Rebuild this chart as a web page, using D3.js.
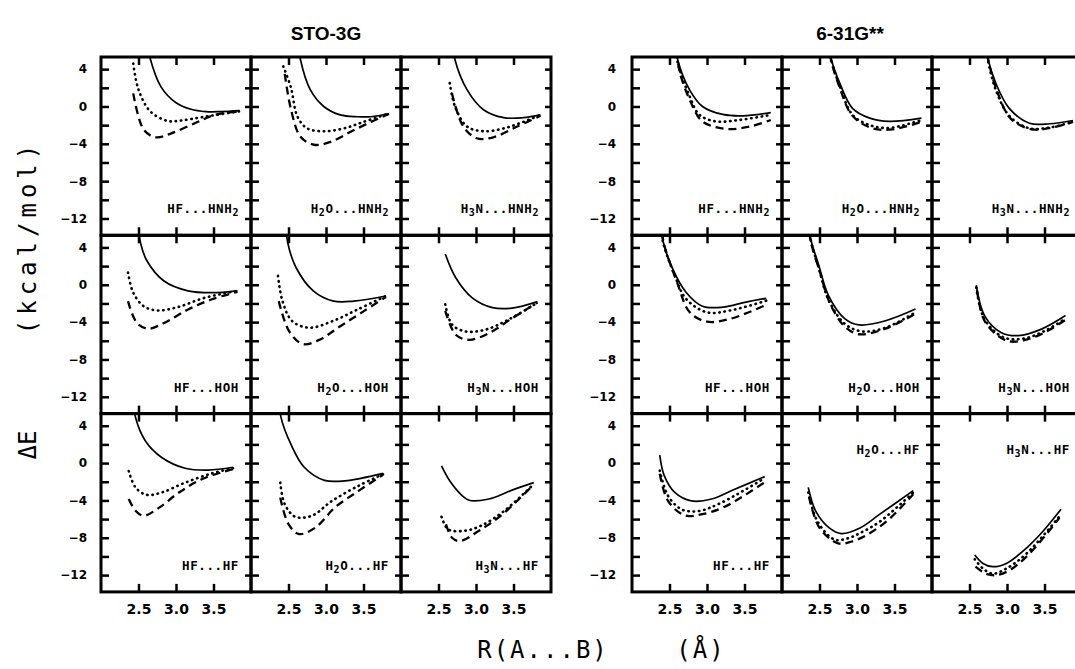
<!DOCTYPE html>
<html>
<head>
<meta charset="utf-8">
<title>Hydrogen bond potential curves</title>
<script src="https://cdn.jsdelivr.net/npm/d3@7"></script>
<style>
  body { margin: 0; background: #fff; }
  svg { display: block; }
  .frame { fill: none; stroke: #000; stroke-width: 3; }
  .ticks path { display: none; }
  .ticks line { stroke: #000; stroke-width: 2.5; }
  .labels path, .labels line { display: none; }
  .labels text { font-family: "DejaVu Sans", sans-serif; font-weight: bold; fill: #000; }
  .curve { fill: none; stroke: #000; stroke-linejoin: round; }
  .solid { stroke-width: 1.7; }
  .dotted { stroke-width: 2.6; stroke-dasharray: 0.5 4.8; stroke-linecap: round; }
  .dashed { stroke-width: 2.3; stroke-dasharray: 8 5; }
  .title { font-family: "Liberation Sans", Arial, sans-serif; font-weight: bold; font-size: 19px; }
  .pairLabel { font-family: "DejaVu Sans Mono", monospace; font-weight: bold; font-size: 12.5px; letter-spacing: 0.6px; }
  .axisTitle { font-family: "DejaVu Sans Mono", monospace; font-size: 24px; }
</style>
</head>
<body>
<svg id="chart" width="1075" height="669"></svg>
<script>
// ---- data ----
basisSets = ["STO-3G", "6-31G**"];
bases = ["HF", "H2O", "H3N"];      // columns
acids = ["HNH2", "HOH", "HF"];     // rows
yTicks = [4, 0, -4, -8, -12];
yMinor = [4, 2, 0, -2, -4, -6, -8, -10, -12];
xTicks = [2.5, 3.0, 3.5];

// curves: [R (A), dE (kcal/mol)], panels row by row (HNH2, HOH, HF) x (HF, H2O, H3N)
stoSolid = [
  [[2.6,7.5],[2.65,5.3],[2.8,2.1],[3.0,0.4],[3.2,-0.3],[3.4,-0.55],[3.6,-0.55],[3.85,-0.45]],
  [[2.62,7.5],[2.66,5.0],[2.79,1.8],[2.97,0.0],[3.19,-0.9],[3.42,-1.1],[3.6,-1.1],[3.84,-0.75]],
  [[2.68,7.5],[2.72,5.0],[2.88,1.8],[3.1,-0.35],[3.37,-1.2],[3.63,-1.2],[3.86,-0.9]],
  [[2.48,7],[2.53,4.4],[2.61,2.6],[2.84,0.4],[3.16,-0.65],[3.48,-0.85],[3.82,-0.65]],
  [[2.46,7],[2.49,4.5],[2.6,1.85],[2.83,-0.65],[3.1,-1.75],[3.37,-1.75],[3.8,-1.2]],
  [[2.59,3.3],[2.73,0.75],[2.95,-1.4],[3.22,-2.45],[3.48,-2.5],[3.82,-1.8]],
  [[2.43,7],[2.46,4.9],[2.59,2.4],[2.81,0.6],[3.12,-0.55],[3.43,-0.75],[3.76,-0.45]],
  [[2.37,7],[2.4,4.9],[2.53,2.05],[2.71,-0.45],[2.98,-1.85],[3.25,-1.9],[3.76,-1.1]],
  [[2.54,-0.3],[2.68,-2.25],[2.9,-3.95],[3.17,-3.85],[3.48,-2.9],[3.77,-2.1]]
];
stoDotted = [
  [[2.43,4.6],[2.5,1.8],[2.66,-0.55],[2.89,-1.55],[3.07,-1.5],[3.38,-1.1],[3.86,-0.5]],
  [[2.43,4.3],[2.53,2.1],[2.62,-1.1],[2.75,-2.35],[2.97,-2.65],[3.24,-2.35],[3.5,-1.65],[3.84,-0.75]],
  [[2.65,2.5],[2.72,0.0],[2.88,-2.15],[3.1,-2.65],[3.37,-2.35],[3.63,-1.65],[3.86,-0.9]],
  [[2.36,1.3],[2.43,-0.85],[2.57,-2.3],[2.75,-2.75],[3.02,-2.4],[3.38,-1.4],[3.82,-0.65]],
  [[2.36,0.95],[2.42,-1.75],[2.55,-3.9],[2.78,-4.6],[3.1,-3.85],[3.42,-2.65],[3.8,-1.2]],
  [[2.59,-2.1],[2.68,-4.25],[2.86,-5.0],[3.13,-4.8],[3.44,-3.7],[3.82,-1.9]],
  [[2.37,-0.85],[2.46,-2.6],[2.61,-3.4],[2.81,-3.15],[3.12,-2.1],[3.48,-1.1],[3.76,-0.55]],
  [[2.39,-2.1],[2.45,-4.4],[2.59,-5.75],[2.81,-5.65],[3.08,-4.05],[3.43,-2.45],[3.76,-1.2]],
  [[2.54,-5.75],[2.63,-7.1],[2.85,-7.25],[3.07,-6.7],[3.38,-5.1],[3.77,-2.25]]
];
stoDashed = [
  [[2.43,1.4],[2.57,-2.5],[2.73,-3.3],[2.93,-2.9],[3.25,-1.8],[3.52,-0.9],[3.86,-0.5]],
  [[2.45,3.5],[2.53,-0.2],[2.66,-3.25],[2.84,-4.1],[3.06,-3.8],[3.33,-2.7],[3.6,-1.65],[3.84,-0.8]],
  [[2.68,1.4],[2.83,-2.15],[3.01,-3.4],[3.23,-3.3],[3.55,-2.15],[3.86,-1.0]],
  [[2.36,-1.75],[2.48,-4.1],[2.63,-4.7],[2.84,-4.1],[3.16,-2.65],[3.48,-1.55],[3.82,-0.75]],
  [[2.37,-1.75],[2.51,-5.0],[2.69,-6.35],[2.91,-5.9],[3.19,-4.45],[3.5,-2.85],[3.8,-1.3]],
  [[2.59,-2.8],[2.73,-5.35],[2.91,-5.9],[3.18,-5.15],[3.48,-3.6],[3.82,-1.9]],
  [[2.37,-3.85],[2.46,-5.1],[2.57,-5.65],[2.77,-4.8],[3.04,-3.15],[3.35,-1.7],[3.76,-0.65]],
  [[2.39,-3.7],[2.5,-6.55],[2.64,-7.6],[2.86,-6.9],[3.12,-4.75],[3.43,-3.0],[3.76,-1.25]],
  [[2.6,-6.55],[2.68,-8.0],[2.79,-8.35],[3.04,-7.25],[3.35,-5.5],[3.77,-2.3]]
];
polSolid = [
  [[2.58,7],[2.61,5.0],[2.77,1.75],[2.94,0.0],[3.21,-0.85],[3.48,-1.0],[3.85,-0.65]],
  [[2.62,7],[2.65,5.3],[2.77,2.5],[2.94,-0.2],[3.17,-1.25],[3.43,-1.6],[3.86,-1.25]],
  [[2.71,7],[2.74,5.3],[2.85,2.5],[3.03,-0.2],[3.3,-1.8],[3.57,-1.85],[3.88,-1.5]],
  [[2.38,7],[2.41,4.8],[2.54,1.75],[2.72,-0.8],[2.94,-2.3],[3.21,-2.4],[3.52,-1.85],[3.79,-1.45]],
  [[2.35,7],[2.38,5.0],[2.49,2.1],[2.62,-1.15],[2.84,-3.65],[3.03,-4.3],[3.38,-3.85],[3.78,-2.6]],
  [[2.59,-0.05],[2.7,-3.3],[2.92,-5.1],[3.15,-5.45],[3.46,-4.75],[3.78,-3.3]],
  [[2.37,0.85],[2.43,-1.35],[2.57,-3.15],[2.79,-4.05],[3.06,-3.85],[3.37,-2.8],[3.77,-1.45]],
  [[2.35,-2.6],[2.45,-5.15],[2.63,-6.95],[2.79,-7.55],[3.04,-6.95],[3.3,-5.5],[3.75,-2.95]],
  [[2.57,-9.85],[2.68,-10.75],[2.81,-11.1],[2.99,-10.75],[3.26,-9.1],[3.48,-7.3],[3.72,-4.95]]
];
polDotted = [
  [[2.58,6.5],[2.61,4.7],[2.77,1.05],[2.9,-0.9],[3.12,-1.6],[3.43,-1.45],[3.85,-0.9]],
  [[2.62,7],[2.65,5.2],[2.77,2.2],[2.94,-0.9],[3.17,-2.0],[3.43,-2.3],[3.86,-1.45]],
  [[2.71,7],[2.74,5.2],[2.85,1.8],[3.03,-1.0],[3.3,-2.35],[3.57,-2.25],[3.88,-1.65]],
  [[2.38,7],[2.41,4.7],[2.57,1.0],[2.72,-1.5],[3.0,-2.95],[3.31,-2.75],[3.79,-1.7]],
  [[2.35,7],[2.38,4.9],[2.49,1.8],[2.62,-1.6],[2.84,-4.2],[3.07,-5.0],[3.38,-4.6],[3.78,-2.95]],
  [[2.59,-0.3],[2.7,-3.7],[2.96,-5.65],[3.23,-5.75],[3.55,-4.75],[3.78,-3.6]],
  [[2.37,-0.8],[2.48,-3.5],[2.66,-4.95],[2.88,-5.15],[3.19,-4.25],[3.77,-1.6]],
  [[2.35,-3.15],[2.47,-6.2],[2.7,-8.2],[2.88,-8.05],[3.04,-7.5],[3.3,-6.3],[3.75,-3.15]],
  [[2.57,-10.3],[2.68,-11.3],[2.81,-11.85],[2.99,-11.3],[3.26,-9.7],[3.7,-5.7]]
];
polDashed = [
  [[2.6,6],[2.63,3.9],[2.77,0.7],[2.94,-1.6],[3.25,-2.4],[3.57,-2.15],[3.85,-1.45]],
  [[2.62,7],[2.65,5.1],[2.77,2.0],[2.94,-1.0],[3.21,-2.35],[3.47,-2.45],[3.86,-1.65]],
  [[2.71,7],[2.75,5.0],[2.87,1.6],[3.05,-1.3],[3.33,-2.45],[3.6,-2.25],[3.88,-1.65]],
  [[2.39,7],[2.42,4.6],[2.6,0.3],[2.77,-2.95],[3.0,-3.95],[3.31,-3.65],[3.79,-2.15]],
  [[2.35,7],[2.38,4.8],[2.5,1.5],[2.64,-2.0],[2.84,-4.5],[3.03,-5.3],[3.38,-4.7],[3.78,-3.1]],
  [[2.6,-0.6],[2.71,-4.0],[3.0,-6.0],[3.27,-5.85],[3.55,-4.9],[3.78,-3.75]],
  [[2.37,-1.15],[2.48,-4.05],[2.7,-5.6],[2.92,-5.5],[3.23,-4.7],[3.77,-2.05]],
  [[2.36,-3.6],[2.5,-6.95],[2.75,-8.6],[2.93,-8.4],[3.13,-7.7],[3.4,-6.2],[3.75,-3.35]],
  [[2.58,-11.1],[2.72,-11.85],[2.86,-12.0],[3.03,-11.5],[3.3,-9.7],[3.7,-5.85]]
];
// panels whose pair label sits at the top instead of the bottom: [basis, row, col]
labelOnTop = [[1, 2, 1], [1, 2, 2]];

// ---- layout ----
svg = d3.select("#chart");
gridLeft = [101, 632];
gridTop = 57;
panelW = 150;
panelH = 178.3;

x = d3.scaleLinear().domain([2.0, 4.0]).range([0, panelW]);
y = d3.scaleLinear().domain([-13.8, 5.3]).range([panelH, 0]);

line = d3.line()
  .x(function(d) { return x(d[0]); })
  .y(function(d) { return y(d[1]); })
  .curve(d3.curveCatmullRom.alpha(0.5));

svg.append("defs").append("clipPath")
    .attr("id", "panelClip")
  .append("rect")
    .attr("width", panelW)
    .attr("height", panelH);

curveSets = [
  [[stoSolid, "solid"], [stoDotted, "dotted"], [stoDashed, "dashed"]],
  [[polSolid, "solid"], [polDotted, "dotted"], [polDashed, "dashed"]]
];

// writes "H2O...HNH2" with subscripted digits
function pairText(sel, str) {
  str.split(/(\d)/).forEach(function(part, i) {
    if (part === "") return;
    if (i % 2 === 1) {
      sel.append("tspan").attr("dy", 3).attr("font-size", "10px").text(part);
    } else {
      sel.append("tspan").attr("dy", i > 0 ? -3 : 0).text(part);
    }
  });
}

basisSets.forEach(function(basis, b) {
  grid = svg.append("g")
    .attr("transform", "translate(" + gridLeft[b] + "," + gridTop + ")");

  grid.append("text")
    .attr("class", "title")
    .attr("x", b === 0 ? 225 : 218)
    .attr("y", -17)
    .attr("text-anchor", "middle")
    .text(basis);

  acids.forEach(function(acid, r) {
    bases.forEach(function(base, c) {
      panel = grid.append("g")
        .attr("transform", "translate(" + (c * panelW) + "," + (r * panelH) + ")");

      curves = panel.append("g").attr("clip-path", "url(#panelClip)");
      curveSets[b].forEach(function(s) {
        curves.append("path")
          .attr("class", "curve " + s[1])
          .attr("d", line(s[0][r * 3 + c]));
      });

      // inward ticks on all four sides
      panel.append("g").attr("class", "ticks")
        .call(d3.axisLeft(y).tickValues(yMinor).tickSize(-8).tickFormat(""));
      panel.append("g").attr("class", "ticks")
        .attr("transform", "translate(" + panelW + ",0)")
        .call(d3.axisRight(y).tickValues(yMinor).tickSize(-6).tickFormat(""));
      panel.append("g").attr("class", "ticks")
        .attr("transform", "translate(0," + panelH + ")")
        .call(d3.axisBottom(x).tickValues(xTicks).tickSize(-8).tickFormat(""));
      panel.append("g").attr("class", "ticks")
        .call(d3.axisTop(x).tickValues(xTicks).tickSize(-8).tickFormat(""));

      panel.append("rect")
        .attr("class", "frame")
        .attr("width", panelW)
        .attr("height", panelH);

      onTop = labelOnTop.some(function(p) { return p[0] === b && p[1] === r && p[2] === c; });
      lbl = panel.append("text")
        .attr("class", "pairLabel")
        .attr("x", panelW - 12)
        .attr("y", onTop ? 40 : panelH - 22)
        .attr("text-anchor", "end");
      pairText(lbl, base + "..." + acid);

      if (c === 0) {
        panel.append("g").attr("class", "labels")
          .call(d3.axisLeft(y).tickValues(yTicks).tickSize(0).tickPadding(b === 0 ? 14 : 16))
          .selectAll("text").attr("font-size", "12px");
      }
      if (r === 2) {
        panel.append("g").attr("class", "labels")
          .attr("transform", "translate(0," + panelH + ")")
          .call(d3.axisBottom(x).tickValues(xTicks).tickSize(0).tickPadding(12).tickFormat(d3.format(".1f")))
          .selectAll("text").attr("font-size", "14px");
      }
    });
  });
});

// axis titles
svg.append("text")
  .attr("class", "axisTitle")
  .attr("transform", "translate(36,237) rotate(-90)")
  .attr("text-anchor", "middle")
  .attr("letter-spacing", 5)
  .text("(kcal/mol)");
svg.append("text")
  .attr("class", "axisTitle")
  .attr("transform", "translate(36,445) rotate(-90)")
  .attr("text-anchor", "middle")
  .attr("font-size", "26px")
  .text("ΔE");
svg.append("text")
  .attr("class", "axisTitle")
  .attr("x", 543)
  .attr("y", 658)
  .attr("text-anchor", "middle")
  .attr("letter-spacing", 2)
  .text("R(A...B)");
svg.append("text")
  .attr("class", "axisTitle")
  .attr("x", 701)
  .attr("y", 658)
  .attr("text-anchor", "middle")
  .attr("letter-spacing", 2)
  .text("(Å)");
</script>
</body>
</html>
